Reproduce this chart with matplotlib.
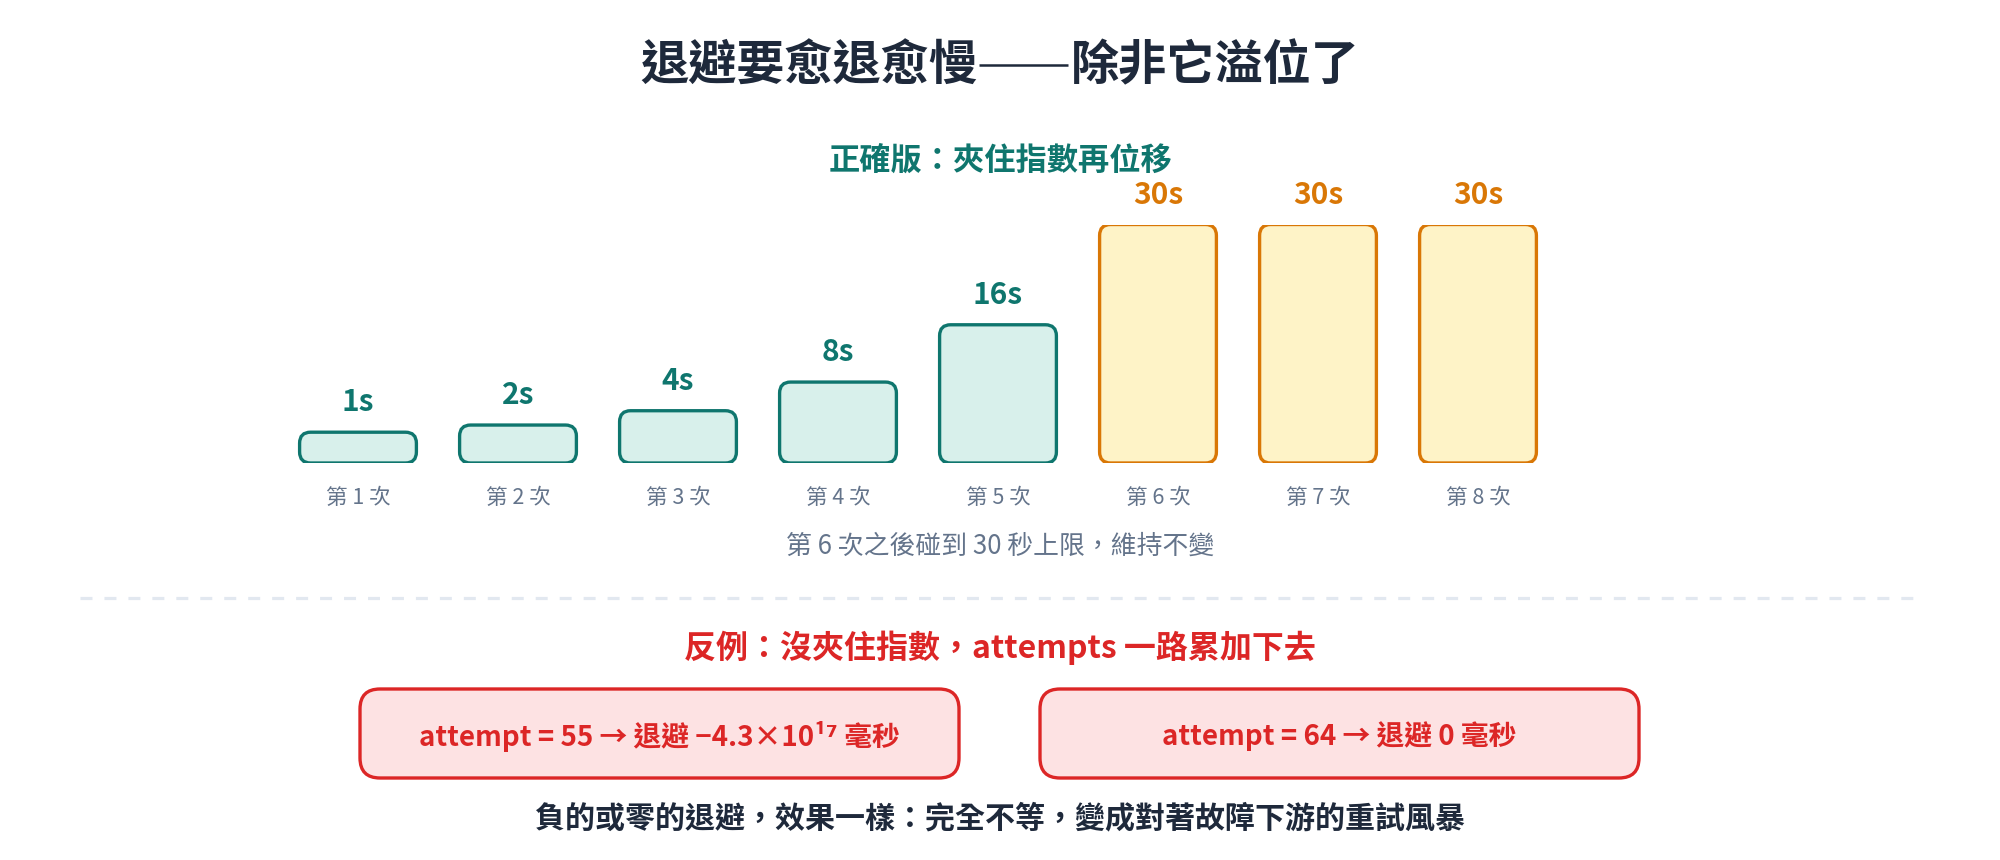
import matplotlib
matplotlib.use("Agg")
import matplotlib.pyplot as plt
from matplotlib.patches import FancyBboxPatch
import numpy as np

plt.rcParams['font.family'] = ['Noto Sans CJK TC', 'DejaVu Sans']

# data
attempts = ["第 1 次", "第 2 次", "第 3 次", "第 4 次", "第 5 次", "第 6 次", "第 7 次", "第 8 次"]
backoff_s = [1, 2, 4, 8, 16, 30, 30, 30]
capped = [False, False, False, False, False, True, True, True]
overflow_cases = ["attempt = 55 → 退避 −4.3×10¹⁷ 毫秒", "attempt = 64 → 退避 0 毫秒"]

TEAL = "#0f766e"
TEAL_FILL = "#d8f0eb"
ORANGE = "#d97706"
ORANGE_FILL = "#fef3c7"
RED = "#dc2626"
RED_FILL = "#fde2e3"
DARK = "#1e293b"
GRAY = "#64748b"

W, H = 2000, 860
fig = plt.figure(figsize=(W / 100, H / 100), dpi=100)
fig.patch.set_facecolor("white")

# pixel-space overlay for texts and decorations
bg = fig.add_axes([0, 0, 1, 1])
bg.set_xlim(0, W)
bg.set_ylim(H, 0)
bg.axis("off")

# title: the double dash is drawn as one line so it stays continuous
bg.text(977, 66, "退避要愈退愈慢", ha="right", va="center",
        fontsize=34.7, fontweight="bold", color=DARK)
bg.plot([979, 1068], [65, 65], color=DARK, lw=1.8, solid_capstyle="butt")
bg.text(1071, 66, "除非它溢位了", ha="left", va="center",
        fontsize=34.7, fontweight="bold", color=DARK)
bg.text(1000, 161, "正確版：夾住指數再位移", ha="center", va="center",
        fontsize=22.5, fontweight="bold", color=TEAL)

# bar chart
floor = 3.3  # minimum visible height, in seconds
ax = fig.add_axes([278 / W, (H - 463) / H, 1280 / W, 238.5 / H])
ax.set_xlim(-0.5, len(backoff_s) - 0.5)
ax.set_ylim(-floor, 30)
ax.axis("off")
x = np.arange(len(backoff_s))
vals = np.array(backoff_s, dtype=float)
bars = ax.bar(x, vals + floor, bottom=-floor, width=0.73)

fig.canvas.draw()
p0 = ax.transData.transform((0, 0))
p1 = ax.transData.transform((1, 1))
xpx = p1[0] - p0[0]
ypx = p1[1] - p0[1]
r_px = 11
for b, v, c in zip(bars, backoff_s, capped):
    ec = ORANGE if c else TEAL
    fc = ORANGE_FILL if c else TEAL_FILL
    patch = FancyBboxPatch((b.get_x(), b.get_y()), b.get_width(), b.get_height(),
                           boxstyle=f"round,pad=0,rounding_size={r_px / xpx}",
                           mutation_aspect=xpx / ypx,
                           facecolor=fc, edgecolor=ec, linewidth=2.4)
    b.remove()
    ax.add_patch(patch)
    ax.annotate(f"{v}s", (b.get_x() + b.get_width() / 2, v), xytext=(0, 30),
                textcoords="offset pixels", ha="center", va="center",
                fontsize=21.5, fontweight="bold", color=ec)
for xi, lab in zip(x, attempts):
    ax.annotate(lab, (xi, -floor), xytext=(0, -35), textcoords="offset pixels",
                ha="center", va="center", fontsize=15.5, color=GRAY)

bg.text(1000, 546, "第 6 次之後碰到 30 秒上限，維持不變", ha="center", va="center",
        fontsize=18.6, color=GRAY)

bg.plot([80, 1916], [598, 598], color="#e2e8f0", lw=2.3, linestyle=(0, (3.75, 3.75)),
        solid_capstyle="butt", dash_capstyle="butt")

bg.text(1000, 648, "反例：沒夾住指數，attempts 一路累加下去", ha="center", va="center",
        fontsize=23, fontweight="bold", color=RED)

for (x0, x1), txt in zip([(360, 959), (1040, 1639)], overflow_cases):
    box = FancyBboxPatch((x0, 689), x1 - x0, 89, boxstyle="round,pad=0,rounding_size=20",
                         facecolor=RED_FILL, edgecolor=RED, linewidth=2.4)
    bg.add_patch(box)
    bg.text((x0 + x1) / 2, 736, txt, ha="center", va="center",
            fontsize=20, fontweight="bold", color=RED)

bg.text(1000, 818, "負的或零的退避，效果一樣：完全不等，變成對著故障下游的重試風暴",
        ha="center", va="center", fontsize=21.6, fontweight="bold", color=DARK)

fig.savefig("out.png", dpi=100, facecolor="white")
